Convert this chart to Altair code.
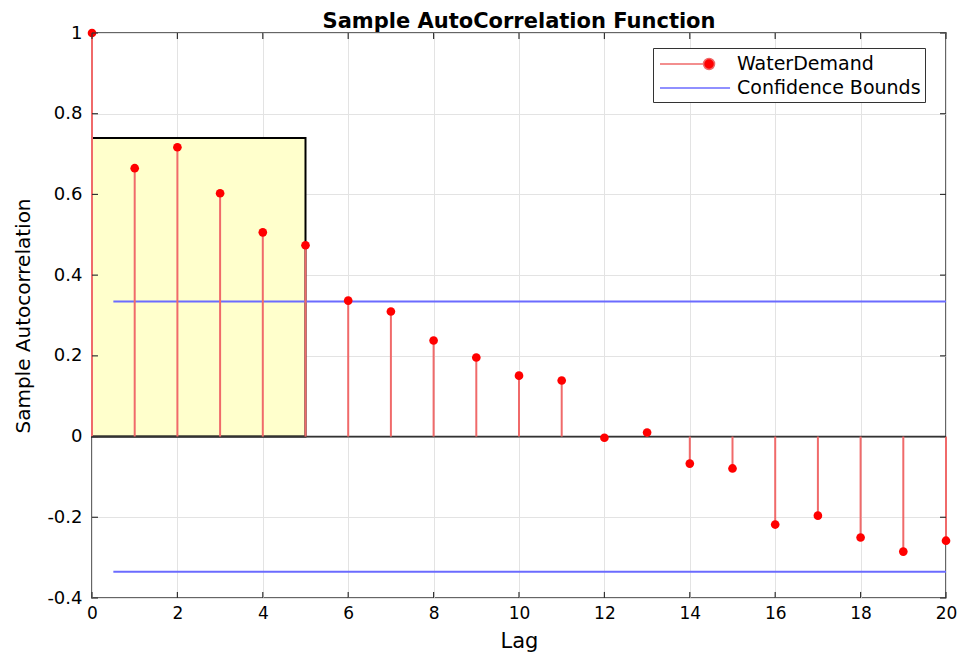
import altair as alt
import pandas as pd

# ---------------- data ----------------
lags = list(range(21))
acf_values = [1.0, 0.665, 0.717, 0.603, 0.506, 0.474, 0.337, 0.310, 0.238, 0.196,
              0.151, 0.139, -0.003, 0.010, -0.067, -0.079, -0.218, -0.196, -0.250,
              -0.285, -0.258]
bound_value = 0.335
bound_lags = [0.5, 20]
highlight_lags = [0, 5]
highlight_acf = [0, 0.74]
x_ticks = list(range(0, 21, 2))
y_ticks = [-0.4, -0.2, 0, 0.2, 0.4, 0.6, 0.8, 1.0]
series_names = ["WaterDemand", "Confidence Bounds"]
chart_title = "Sample AutoCorrelation Function"
x_title = "Lag"
y_title = "Sample Autocorrelation"

# ---------------- styles ----------------
FONT = "DejaVu Sans"
dot_red = "#ff0000"
stem_red = "#f06a6a"
bound_blue = "#6b6bff"
X_DOMAIN = [0, 20]
Y_DOMAIN = [-0.4, 1.0]
TICK_X = 0.14   # inward tick length in x units
TICK_Y = 0.015  # inward tick length in y units

df = pd.DataFrame({"lag": lags, "acf": acf_values})
rect_df = pd.DataFrame({"x0": [highlight_lags[0]], "x1": [highlight_lags[1]],
                        "y0": [highlight_acf[0]], "y1": [highlight_acf[1]]})
bound_df = pd.DataFrame({"x0": [bound_lags[0]] * 2, "x1": [bound_lags[1]] * 2,
                         "y": [bound_value, -bound_value]})
xt_df = pd.DataFrame({"t": x_ticks})
yt_df = pd.DataFrame({"t": y_ticks})

xs = alt.Scale(domain=X_DOMAIN, nice=False, zero=False)
ys = alt.Scale(domain=Y_DOMAIN, nice=False, zero=False)

x_axis = alt.Axis(values=x_ticks, title=x_title, grid=True, ticks=False, domain=False,
                  labelFontSize=17, titleFontSize=21, labelPadding=7, titlePadding=9,
                  labelFlush=False, format="d")
y_axis = alt.Axis(values=y_ticks, title=y_title, grid=True, ticks=False, domain=False,
                  labelFontSize=18, titleFontSize=20, labelPadding=10, titlePadding=13,
                  labelFlush=False,
                  labelExpr="toString(round(datum.value*10)/10)")


def X(field):
    return alt.X(field, scale=xs, axis=x_axis)


def Y(field):
    return alt.Y(field, scale=ys, axis=y_axis)


rect = alt.Chart(rect_df).mark_rect(fill="#ffffcc", stroke="black", strokeWidth=2).encode(
    x=X("x0:Q"), x2="x1:Q", y=Y("y0:Q"), y2="y1:Q",
)

zero_line = alt.Chart(rect_df).transform_calculate(z="0", xa=str(X_DOMAIN[0]), xb=str(X_DOMAIN[1])).mark_rule(
    color="#333333", strokeWidth=1.8
).encode(
    x=X("xa:Q"), x2="xb:Q", y=Y("z:Q"),
)

bounds = alt.Chart(bound_df).mark_rule(color=bound_blue, strokeWidth=2).encode(
    x=X("x0:Q"), x2="x1:Q", y=Y("y:Q"),
)

stems = alt.Chart(df).transform_calculate(base="0").mark_rule(color=stem_red, strokeWidth=2).encode(
    x=X("lag:Q"), y=Y("base:Q"), y2="acf:Q",
)

dots = alt.Chart(df).mark_circle(color=dot_red, size=75, opacity=1).encode(
    x=X("lag:Q"), y=Y("acf:Q"),
)

# inward ticks on all four sides
tick_color = "#333333"
bottom_ticks = alt.Chart(xt_df).transform_calculate(
    a=str(Y_DOMAIN[0]), b=str(Y_DOMAIN[0] + TICK_Y)
).mark_rule(color=tick_color, strokeWidth=1.2).encode(x=X("t:Q"), y=Y("a:Q"), y2="b:Q")
top_ticks = alt.Chart(xt_df).transform_calculate(
    a=str(Y_DOMAIN[1]), b=str(Y_DOMAIN[1] - TICK_Y)
).mark_rule(color=tick_color, strokeWidth=1.2).encode(x=X("t:Q"), y=Y("a:Q"), y2="b:Q")
left_ticks = alt.Chart(yt_df).transform_calculate(
    a=str(X_DOMAIN[0]), b=str(X_DOMAIN[0] + TICK_X)
).mark_rule(color=tick_color, strokeWidth=1.2).encode(y=Y("t:Q"), x=X("a:Q"), x2="b:Q")
right_ticks = alt.Chart(yt_df).transform_calculate(
    a=str(X_DOMAIN[1]), b=str(X_DOMAIN[1] - TICK_X)
).mark_rule(color=tick_color, strokeWidth=1.2).encode(y=Y("t:Q"), x=X("a:Q"), x2="b:Q")

# legend-only layer (no rows drawn)
red_path = "M-0.82,0L3.09,0M3.14,0A0.5,0.5,0,1,1,4.14,0A0.5,0.5,0,1,1,3.14,0Z"
line_path = "M-0.82,0L5.55,0"
legend_cfg = alt.Legend(
    title=None, orient="none", legendX=561, legendY=15,
    labelFontSize=19, labelFont=FONT, labelColor="black", labelLimit=400,
    symbolSize=484, symbolStrokeWidth=1.5, labelOffset=56,
    fillColor="white", strokeColor="#333333", padding=4, rowPadding=2,
)
legend_layer = alt.Chart(df).transform_calculate(series="'WaterDemand'").transform_filter(
    "false"
).mark_point(filled=True, size=75, opacity=1, strokeWidth=1.5).encode(
    x=X("lag:Q"),
    y=Y("acf:Q"),
    color=alt.Color("series:N", scale=alt.Scale(domain=series_names, range=[dot_red, bound_blue]),
                    legend=legend_cfg),
    stroke=alt.Stroke("series:N", scale=alt.Scale(domain=series_names, range=[stem_red, bound_blue]),
                      legend=legend_cfg),
    shape=alt.Shape("series:N", scale=alt.Scale(domain=series_names, range=[red_path, line_path]),
                    legend=legend_cfg),
)

chart = alt.layer(
    rect, zero_line, bounds, stems, dots,
    bottom_ticks, top_ticks, left_ticks, right_ticks, legend_layer,
).properties(
    width=854, height=565,
    padding={"left": 84, "top": 25, "right": 11, "bottom": 60},
    autosize=alt.AutoSizeParams(type="none"),
    title=alt.Title(chart_title, fontSize=21, fontWeight="bold", font=FONT,
                    color="black", anchor="middle", offset=0, dy=8),
).configure_view(
    stroke="#333333", strokeWidth=1.5,
).configure_axis(
    labelFont=FONT, titleFont=FONT, labelColor="black", titleColor="black",
    titleFontWeight="normal", gridColor="#e3e3e3", gridWidth=1,
)

chart.save("out.html", embed_options={"renderer": "svg", "actions": False})
